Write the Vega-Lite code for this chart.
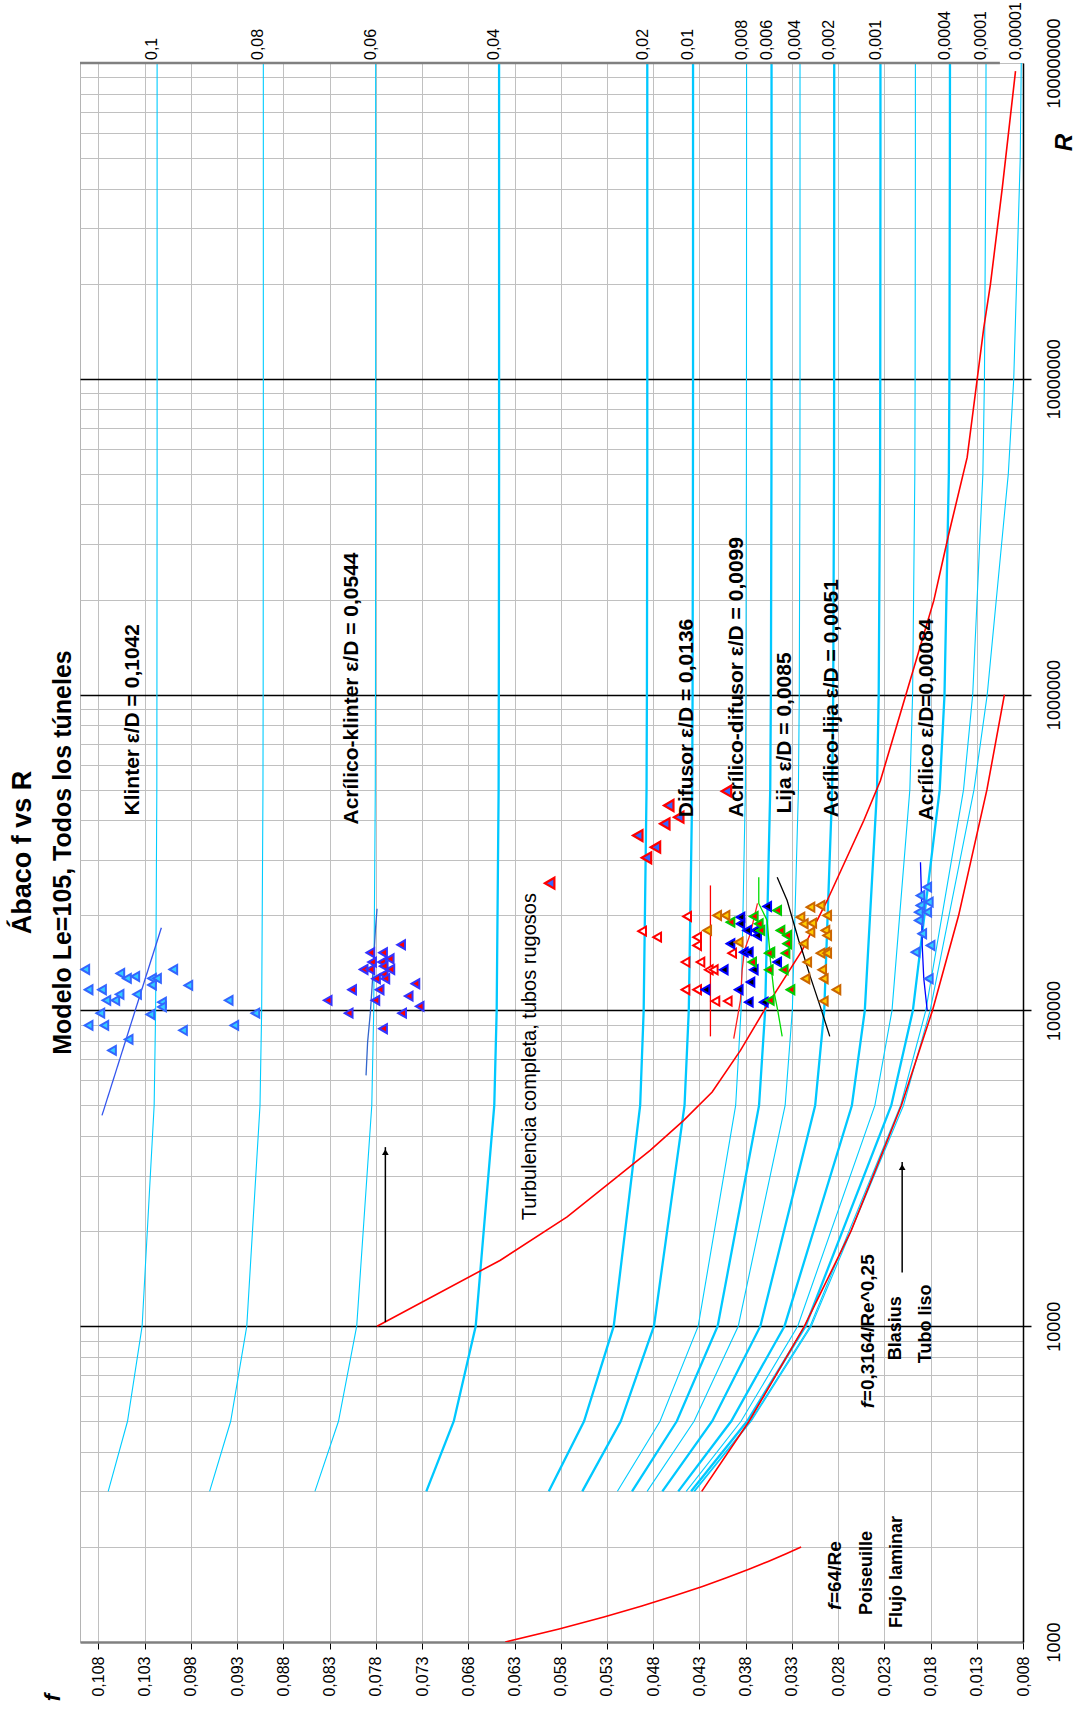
{
  "$schema": "https://vega.github.io/schema/vega-lite/v6.json",
  "width": 943,
  "height": 1579,
  "autosize": {"type": "none"},
  "padding": {"left": 80, "top": 63, "right": 53, "bottom": 69},
  "background": "#ffffff",
  "config": {
    "font": "Arial",
    "view": {"stroke": "#b4b4b4", "strokeWidth": 1},
    "axis": {"labelFont": "Arial", "titleFont": "Arial"}
  },
  "title": {
    "text": "Ábaco f vs R",
    "subtitle": "Modelo Le=105, Todos los túneles",
    "orient": "left",
    "anchor": "middle",
    "font": "Arial",
    "fontSize": 27,
    "fontWeight": "bold",
    "color": "#000000",
    "subtitleFont": "Arial",
    "subtitleFontSize": 25,
    "subtitleFontWeight": "bold",
    "subtitleColor": "#000000",
    "subtitlePadding": 14,
    "offset": -36
  },
  "datasets": {
    "curves": [
      {"c":"0.1","R":3000,"f":0.10695},{"c":"0.1","R":5000,"f":0.10486},{"c":"0.1","R":10000,"f":0.10328},{"c":"0.1","R":50000,"f":0.10198},{"c":"0.1","R":100000,"f":0.10182},{"c":"0.1","R":500000,"f":0.10169},{"c":"0.1","R":1000000,"f":0.10168},{"c":"0.1","R":5000000,"f":0.10166},{"c":"0.1","R":10000000,"f":0.10166},{"c":"0.1","R":50000000,"f":0.10166},{"c":"0.1","R":100000000,"f":0.10166},
      {"c":"0.08","R":3000,"f":0.09598},{"c":"0.08","R":5000,"f":0.0937},{"c":"0.08","R":10000,"f":0.09196},{"c":"0.08","R":50000,"f":0.09053},{"c":"0.08","R":100000,"f":0.09035},{"c":"0.08","R":500000,"f":0.09021},{"c":"0.08","R":1000000,"f":0.09019},{"c":"0.08","R":5000000,"f":0.09017},{"c":"0.08","R":10000000,"f":0.09017},{"c":"0.08","R":50000000,"f":0.09017},{"c":"0.08","R":100000000,"f":0.09017},
      {"c":"0.06","R":3000,"f":0.08459},{"c":"0.06","R":5000,"f":0.08204},{"c":"0.06","R":10000,"f":0.08007},{"c":"0.06","R":50000,"f":0.07844},{"c":"0.06","R":100000,"f":0.07823},{"c":"0.06","R":500000,"f":0.07806},{"c":"0.06","R":1000000,"f":0.07804},{"c":"0.06","R":5000000,"f":0.07802},{"c":"0.06","R":10000000,"f":0.07802},{"c":"0.06","R":50000000,"f":0.07802},{"c":"0.06","R":100000000,"f":0.07802},
      {"c":"0.04","R":3000,"f":0.07254},{"c":"0.04","R":5000,"f":0.06957},{"c":"0.04","R":10000,"f":0.0672},{"c":"0.04","R":50000,"f":0.06519},{"c":"0.04","R":100000,"f":0.06493},{"c":"0.04","R":500000,"f":0.06472},{"c":"0.04","R":1000000,"f":0.0647},{"c":"0.04","R":5000000,"f":0.06467},{"c":"0.04","R":10000000,"f":0.06467},{"c":"0.04","R":50000000,"f":0.06467},{"c":"0.04","R":100000000,"f":0.06467},
      {"c":"0.02","R":3000,"f":0.05929},{"c":"0.02","R":5000,"f":0.05548},{"c":"0.02","R":10000,"f":0.05227},{"c":"0.02","R":50000,"f":0.04941},{"c":"0.02","R":100000,"f":0.04903},{"c":"0.02","R":500000,"f":0.04872},{"c":"0.02","R":1000000,"f":0.04868},{"c":"0.02","R":5000000,"f":0.04864},{"c":"0.02","R":10000000,"f":0.04864},{"c":"0.02","R":50000000,"f":0.04864},{"c":"0.02","R":100000000,"f":0.04864},
      {"c":"0.015","R":3000,"f":0.05567},{"c":"0.015","R":5000,"f":0.05151},{"c":"0.015","R":10000,"f":0.04792},{"c":"0.015","R":50000,"f":0.04461},{"c":"0.015","R":100000,"f":0.04415},{"c":"0.015","R":500000,"f":0.04378},{"c":"0.015","R":1000000,"f":0.04374},{"c":"0.015","R":5000000,"f":0.0437},{"c":"0.015","R":10000000,"f":0.04369},{"c":"0.015","R":50000000,"f":0.04369},{"c":"0.015","R":100000000,"f":0.04369},
      {"c":"0.01","R":3000,"f":0.05187},{"c":"0.01","R":5000,"f":0.04726},{"c":"0.01","R":10000,"f":0.04313},{"c":"0.01","R":50000,"f":0.03908},{"c":"0.01","R":100000,"f":0.0385},{"c":"0.01","R":500000,"f":0.03803},{"c":"0.01","R":1000000,"f":0.03797},{"c":"0.01","R":5000000,"f":0.03792},{"c":"0.01","R":10000000,"f":0.03791},{"c":"0.01","R":50000000,"f":0.0379},{"c":"0.01","R":100000000,"f":0.0379},
      {"c":"0.008","R":3000,"f":0.05029},{"c":"0.008","R":5000,"f":0.04545},{"c":"0.008","R":10000,"f":0.04103},{"c":"0.008","R":50000,"f":0.03655},{"c":"0.008","R":100000,"f":0.03589},{"c":"0.008","R":500000,"f":0.03534},{"c":"0.008","R":1000000,"f":0.03527},{"c":"0.008","R":5000000,"f":0.03521},{"c":"0.008","R":10000000,"f":0.0352},{"c":"0.008","R":50000000,"f":0.0352},{"c":"0.008","R":100000000,"f":0.0352},
      {"c":"0.006","R":3000,"f":0.04866},{"c":"0.006","R":5000,"f":0.04358},{"c":"0.006","R":10000,"f":0.0388},{"c":"0.006","R":50000,"f":0.03373},{"c":"0.006","R":100000,"f":0.03295},{"c":"0.006","R":500000,"f":0.03229},{"c":"0.006","R":1000000,"f":0.0322},{"c":"0.006","R":5000000,"f":0.03213},{"c":"0.006","R":10000000,"f":0.03212},{"c":"0.006","R":50000000,"f":0.03212},{"c":"0.006","R":100000000,"f":0.03212},
      {"c":"0.004","R":3000,"f":0.04701},{"c":"0.004","R":5000,"f":0.04162},{"c":"0.004","R":10000,"f":0.03641},{"c":"0.004","R":50000,"f":0.03048},{"c":"0.004","R":100000,"f":0.0295},{"c":"0.004","R":500000,"f":0.02864},{"c":"0.004","R":1000000,"f":0.02853},{"c":"0.004","R":5000000,"f":0.02844},{"c":"0.004","R":10000000,"f":0.02843},{"c":"0.004","R":50000000,"f":0.02842},{"c":"0.004","R":100000000,"f":0.02842},
      {"c":"0.002","R":3000,"f":0.04529},{"c":"0.002","R":5000,"f":0.03957},{"c":"0.002","R":10000,"f":0.0338},{"c":"0.002","R":50000,"f":0.02651},{"c":"0.002","R":100000,"f":0.02511},{"c":"0.002","R":500000,"f":0.02379},{"c":"0.002","R":1000000,"f":0.02361},{"c":"0.002","R":5000000,"f":0.02346},{"c":"0.002","R":10000000,"f":0.02344},{"c":"0.002","R":50000000,"f":0.02342},{"c":"0.002","R":100000000,"f":0.02342},
      {"c":"0.001","R":3000,"f":0.04443},{"c":"0.001","R":5000,"f":0.0385},{"c":"0.001","R":10000,"f":0.03237},{"c":"0.001","R":50000,"f":0.02402},{"c":"0.001","R":100000,"f":0.02217},{"c":"0.001","R":500000,"f":0.02024},{"c":"0.001","R":1000000,"f":0.01994},{"c":"0.001","R":5000000,"f":0.0197},{"c":"0.001","R":10000000,"f":0.01967},{"c":"0.001","R":50000000,"f":0.01964},{"c":"0.001","R":100000000,"f":0.01964},
      {"c":"0.0004","R":3000,"f":0.0439},{"c":"0.0004","R":5000,"f":0.03784},{"c":"0.0004","R":10000,"f":0.03152},{"c":"0.0004","R":50000,"f":0.02225},{"c":"0.0004","R":100000,"f":0.01991},{"c":"0.0004","R":500000,"f":0.01701},{"c":"0.0004","R":1000000,"f":0.01649},{"c":"0.0004","R":5000000,"f":0.01602},{"c":"0.0004","R":10000000,"f":0.01596},{"c":"0.0004","R":50000000,"f":0.01591},{"c":"0.0004","R":100000000,"f":0.0159},
      {"c":"0.0001","R":3000,"f":0.04361},{"c":"0.0001","R":5000,"f":0.0375},{"c":"0.0001","R":10000,"f":0.03103},{"c":"0.0001","R":50000,"f":0.02124},{"c":"0.0001","R":100000,"f":0.01851},{"c":"0.0001","R":500000,"f":0.01443},{"c":"0.0001","R":1000000,"f":0.01344},{"c":"0.0001","R":5000000,"f":0.01234},{"c":"0.0001","R":10000000,"f":0.01217},{"c":"0.0001","R":50000000,"f":0.01202},{"c":"0.0001","R":100000000,"f":0.012},
      {"c":"0.00001","R":3000,"f":0.04352},{"c":"0.00001","R":5000,"f":0.0374},{"c":"0.00001","R":10000,"f":0.0309},{"c":"0.00001","R":50000,"f":0.02093},{"c":"0.00001","R":100000,"f":0.01804},{"c":"0.00001","R":500000,"f":0.0133},{"c":"0.00001","R":1000000,"f":0.01187},{"c":"0.00001","R":5000000,"f":0.00959},{"c":"0.00001","R":10000000,"f":0.009},{"c":"0.00001","R":50000000,"f":0.0083},{"c":"0.00001","R":100000000,"f":0.00819}
    ],
    "redlines": [
      {"l":"turb","R":10000,"f":0.07787},{"l":"turb","R":16180,"f":0.06453},{"l":"turb","R":22180,"f":0.05731},{"l":"turb","R":29690,"f":0.0519},{"l":"turb","R":36060,"f":0.04833},{"l":"turb","R":44860,"f":0.0447},{"l":"turb","R":55140,"f":0.04162},{"l":"turb","R":74700,"f":0.03856},{"l":"turb","R":103700,"f":0.03567},{"l":"turb","R":154800,"f":0.03189},{"l":"turb","R":222900,"f":0.02918},{"l":"turb","R":399300,"f":0.02522},{"l":"turb","R":534300,"f":0.02342},{"l":"turb","R":1030000,"f":0.02053},{"l":"turb","R":1984000,"f":0.01765},{"l":"turb","R":3225000,"f":0.01603},{"l":"turb","R":5635000,"f":0.01404},{"l":"turb","R":9950000,"f":0.01296},{"l":"turb","R":14530000,"f":0.01224},{"l":"turb","R":19940000,"f":0.01152},{"l":"turb","R":40000000,"f":0.01025},{"l":"turb","R":94300000,"f":0.00881},
      {"l":"blasius","R":3000,"f":0.04275},{"l":"blasius","R":5000,"f":0.03763},{"l":"blasius","R":10000,"f":0.03164},{"l":"blasius","R":20000,"f":0.02661},{"l":"blasius","R":50000,"f":0.02116},{"l":"blasius","R":100000,"f":0.01779},{"l":"blasius","R":200000,"f":0.01496},{"l":"blasius","R":500000,"f":0.0119},{"l":"blasius","R":1000000,"f":0.01001},
      {"l":"laminar","R":1000,"f":0.064},{"l":"laminar","R":1100,"f":0.05818},{"l":"laminar","R":1200,"f":0.05333},{"l":"laminar","R":1300,"f":0.04923},{"l":"laminar","R":1400,"f":0.04571},{"l":"laminar","R":1500,"f":0.04267},{"l":"laminar","R":1600,"f":0.04},{"l":"laminar","R":1700,"f":0.03765},{"l":"laminar","R":1800,"f":0.03556},{"l":"laminar","R":1900,"f":0.03368},{"l":"laminar","R":2000,"f":0.032}
    ],
    "fits": [
      {"s":"Klinter","R":46530,"f":0.10762},{"s":"Klinter","R":182700,"f":0.1012},
      {"s":"Acrílico-klinter","R":62280,"f":0.07906},{"s":"Acrílico-klinter","R":79380,"f":0.07889},{"s":"Acrílico-klinter","R":97840,"f":0.0786},{"s":"Acrílico-klinter","R":118500,"f":0.07841},{"s":"Acrílico-klinter","R":179200,"f":0.07805},{"s":"Acrílico-klinter","R":209800,"f":0.07787},
      {"s":"Difusor","R":82750,"f":0.04181},{"s":"Difusor","R":248700,"f":0.04181},
      {"s":"Acrílico-difusor","R":81360,"f":0.03929},{"s":"Acrílico-difusor","R":107600,"f":0.03856},{"s":"Acrílico-difusor","R":133800,"f":0.03838},{"s":"Acrílico-difusor","R":154800,"f":0.03813},{"s":"Acrílico-difusor","R":175300,"f":0.03748},{"s":"Acrílico-difusor","R":218100,"f":0.03672},
      {"s":"Lija","R":82750,"f":0.03405},{"s":"Lija","R":100000,"f":0.03453},{"s":"Lija","R":115700,"f":0.03496},{"s":"Lija","R":143900,"f":0.03532},{"s":"Lija","R":154800,"f":0.0354},{"s":"Lija","R":192700,"f":0.03568},{"s":"Lija","R":218100,"f":0.03658},{"s":"Lija","R":264200,"f":0.03658},
      {"s":"Acrílico-lija","R":82750,"f":0.0289},{"s":"Acrílico-lija","R":102400,"f":0.02991},{"s":"Acrílico-lija","R":127500,"f":0.03099},{"s":"Acrílico-lija","R":154800,"f":0.03189},{"s":"Acrílico-lija","R":166500,"f":0.03226},{"s":"Acrílico-lija","R":222900,"f":0.03351},{"s":"Acrílico-lija","R":264200,"f":0.03459},
      {"s":"Acrílico","R":100000,"f":0.01836},{"s":"Acrílico","R":126000,"f":0.01873},{"s":"Acrílico","R":160000,"f":0.0189},{"s":"Acrílico","R":230000,"f":0.01898},{"s":"Acrílico","R":294600,"f":0.01909}
    ],
    "pts": [
      {"s":"Klinter","f":0.10943,"R":134800},{"s":"Klinter","f":0.10907,"R":116300},{"s":"Klinter","f":0.10762,"R":116300},{"s":"Klinter","f":0.10715,"R":107600},{"s":"Klinter","f":0.10618,"R":107600},{"s":"Klinter","f":0.10572,"R":112400},{"s":"Klinter","f":0.10564,"R":130900},{"s":"Klinter","f":0.10492,"R":126300},{"s":"Klinter","f":0.10402,"R":128100},{"s":"Klinter","f":0.10383,"R":112400},{"s":"Klinter","f":0.10221,"R":126300},{"s":"Klinter","f":0.10167,"R":126300},{"s":"Klinter","f":0.10221,"R":120400},{"s":"Klinter","f":0.10113,"R":106200},{"s":"Klinter","f":0.10113,"R":102600},{"s":"Klinter","f":0.10239,"R":97100},{"s":"Klinter","f":0.1078,"R":98000},{"s":"Klinter","f":0.10907,"R":89640},{"s":"Klinter","f":0.10737,"R":89640},{"s":"Klinter","f":0.10654,"R":74700},{"s":"Klinter","f":0.10474,"R":80950},{"s":"Klinter","f":0.09991,"R":134800},{"s":"Klinter","f":0.09828,"R":120000},{"s":"Klinter","f":0.09392,"R":107600},{"s":"Klinter","f":0.09103,"R":98000},{"s":"Klinter","f":0.09331,"R":89640},{"s":"Klinter","f":0.09886,"R":86460},
      {"s":"Acrílico-klinter","f":0.07527,"R":161400},{"s":"Acrílico-klinter","f":0.07859,"R":152300},{"s":"Acrílico-klinter","f":0.07722,"R":152300},{"s":"Acrílico-klinter","f":0.07841,"R":142200},{"s":"Acrílico-klinter","f":0.07733,"R":142200},{"s":"Acrílico-klinter","f":0.0765,"R":145700},{"s":"Acrílico-klinter","f":0.07932,"R":134800},{"s":"Acrílico-klinter","f":0.07859,"R":134800},{"s":"Acrílico-klinter","f":0.07715,"R":138100},{"s":"Acrílico-klinter","f":0.07643,"R":134800},{"s":"Acrílico-klinter","f":0.07715,"R":130000},{"s":"Acrílico-klinter","f":0.07798,"R":126000},{"s":"Acrílico-klinter","f":0.07697,"R":126000},{"s":"Acrílico-klinter","f":0.07372,"R":121500},{"s":"Acrílico-klinter","f":0.08057,"R":116300},{"s":"Acrílico-klinter","f":0.07759,"R":116300},{"s":"Acrílico-klinter","f":0.07445,"R":111000},{"s":"Acrílico-klinter","f":0.08321,"R":107600},{"s":"Acrílico-klinter","f":0.07805,"R":107600},{"s":"Acrílico-klinter","f":0.07326,"R":103000},{"s":"Acrílico-klinter","f":0.08094,"R":98000},{"s":"Acrílico-klinter","f":0.07516,"R":98000},{"s":"Acrílico-klinter","f":0.07722,"R":87500},
      {"s":"Difusor","f":0.04433,"R":198400},{"s":"Difusor","f":0.0492,"R":178200},{"s":"Difusor","f":0.04757,"R":170600},{"s":"Difusor","f":0.04325,"R":170600},{"s":"Difusor","f":0.04325,"R":160600},{"s":"Difusor","f":0.04451,"R":142200},{"s":"Difusor","f":0.04289,"R":142200},{"s":"Difusor","f":0.03946,"R":151800},{"s":"Difusor","f":0.04451,"R":116300},{"s":"Difusor","f":0.04325,"R":116300},{"s":"Difusor","f":0.04127,"R":107000},{"s":"Difusor","f":0.03994,"R":107000},{"s":"Difusor","f":0.04199,"R":134500},{"s":"Difusor","f":0.04145,"R":134500},
      {"s":"Acrílico-difusor","f":0.03856,"R":197400},{"s":"Acrílico-difusor","f":0.03567,"R":213400},{"s":"Acrílico-difusor","f":0.03856,"R":188100},{"s":"Acrílico-difusor","f":0.03784,"R":179200},{"s":"Acrílico-difusor","f":0.03694,"R":179200},{"s":"Acrílico-difusor","f":0.03676,"R":172700},{"s":"Acrílico-difusor","f":0.03964,"R":162600},{"s":"Acrílico-difusor","f":0.0382,"R":152900},{"s":"Acrílico-difusor","f":0.03766,"R":152900},{"s":"Acrílico-difusor","f":0.03459,"R":142200},{"s":"Acrílico-difusor","f":0.04037,"R":134500},{"s":"Acrílico-difusor","f":0.03712,"R":134500},{"s":"Acrílico-difusor","f":0.03748,"R":122900},{"s":"Acrílico-difusor","f":0.04235,"R":116300},{"s":"Acrílico-difusor","f":0.03875,"R":116300},{"s":"Acrílico-difusor","f":0.03766,"R":106200},{"s":"Acrílico-difusor","f":0.03604,"R":106200},
      {"s":"Lija","f":0.03459,"R":207300},{"s":"Lija","f":0.03712,"R":198400},{"s":"Lija","f":0.03658,"R":188100},{"s":"Lija","f":0.03423,"R":179200},{"s":"Lija","f":0.03351,"R":172700},{"s":"Lija","f":0.0364,"R":179200},{"s":"Lija","f":0.03351,"R":162600},{"s":"Lija","f":0.03532,"R":152900},{"s":"Lija","f":0.03964,"R":190300},{"s":"Lija","f":0.0355,"R":151800},{"s":"Lija","f":0.03369,"R":151800},{"s":"Lija","f":0.0373,"R":142200},{"s":"Lija","f":0.0355,"R":134500},{"s":"Lija","f":0.03388,"R":134500},{"s":"Lija","f":0.03315,"R":116300},{"s":"Lija","f":0.03539,"R":107600},
      {"s":"Acrílico-lija","f":0.03099,"R":212300},{"s":"Acrílico-lija","f":0.0299,"R":214900},{"s":"Acrílico-lija","f":0.02918,"R":199800},{"s":"Acrílico-lija","f":0.03207,"R":197400},{"s":"Acrílico-lija","f":0.03171,"R":188100},{"s":"Acrílico-lija","f":0.0308,"R":188900},{"s":"Acrílico-lija","f":0.02937,"R":179200},{"s":"Acrílico-lija","f":0.03099,"R":177000},{"s":"Acrílico-lija","f":0.02918,"R":172700},{"s":"Acrílico-lija","f":0.03171,"R":162600},{"s":"Acrílico-lija","f":0.02937,"R":152900},{"s":"Acrílico-lija","f":0.04108,"R":199800},{"s":"Acrílico-lija","f":0.04018,"R":199800},{"s":"Acrílico-lija","f":0.04216,"R":179200},{"s":"Acrílico-lija","f":0.03875,"R":164500},{"s":"Acrílico-lija","f":0.0299,"R":151800},{"s":"Acrílico-lija","f":0.02918,"R":151800},{"s":"Acrílico-lija","f":0.03134,"R":142200},{"s":"Acrílico-lija","f":0.02972,"R":134500},{"s":"Acrílico-lija","f":0.03153,"R":126000},{"s":"Acrílico-lija","f":0.02955,"R":126000},{"s":"Acrílico-lija","f":0.02818,"R":116300},{"s":"Acrílico-lija","f":0.02955,"R":107000},
      {"s":"Acrílico","f":0.01836,"R":245600},{"s":"Acrílico","f":0.01909,"R":231100},{"s":"Acrílico","f":0.01819,"R":220200},{"s":"Acrílico","f":0.01909,"R":214900},{"s":"Acrílico","f":0.01927,"R":204700},{"s":"Acrílico","f":0.01836,"R":204700},{"s":"Acrílico","f":0.01927,"R":192700},{"s":"Acrílico","f":0.0189,"R":174900},{"s":"Acrílico","f":0.018,"R":160600},{"s":"Acrílico","f":0.01963,"R":152900},{"s":"Acrílico","f":0.01819,"R":126000}
    ],
    "turbpts": [
      {"f":0.0592,"R":252800},{"f":0.04967,"R":357900},{"f":0.04873,"R":304200},{"f":0.04776,"R":328700},{"f":0.04675,"R":389800},{"f":0.04632,"R":445500},{"f":0.04524,"R":409000},{"f":0.04008,"R":494300}
    ],
    "arrows": [
      {"f":0.07697,"R":10300,"R2":36900},
      {"f":0.02107,"R":14800,"R2":33100}
    ],
    "arrowheads": [
      {"f":0.07697,"R":35600},
      {"f":0.02107,"R":31900}
    ],
    "notes": [
      {"t":"Klinter  ε/D = 0,1042","f":0.10429,"R":414100},
      {"t":"Acrílico-klinter ε/D = 0,0544","f":0.0806,"R":387800},
      {"t":"Difusor  ε/D = 0,0136","f":0.04433,"R":409000},
      {"t":"Acrílico-difusor ε/D = 0,0099","f":0.03892,"R":409000},
      {"t":"Lija  ε/D = 0,0085","f":0.03369,"R":420200},
      {"t":"Acrílico-lija  ε/D = 0,0051","f":0.02864,"R":409000},
      {"t":"Acrílico  ε/D=0,00084","f":0.01836,"R":399300}
    ],
    "regime": [
      {"t":"Turbulencia completa, tubos rugosos","f":0.06128,"R":21650}
    ],
    "smallnotes": [
      {"t":"Blasius","f":0.02179,"R":7805},
      {"t":"Tubo liso","f":0.01844,"R":7636},
      {"t":"Poiseuille","f":0.02485,"R":1217},
      {"t":"Flujo laminar","f":0.02161,"R":1107}
    ],
    "formulas": [
      {"t":"=0,3164/Re^0,25","f":0.02476,"R":5502},
      {"t":"=64/Re","f":0.02829,"R":1263}
    ],
    "rough": [
      {"t":"0,1","f":0.1017,"R":100000000},{"t":"0,08","f":0.0902,"R":100000000},{"t":"0,06","f":0.078,"R":100000000},{"t":"0,04","f":0.0647,"R":100000000},{"t":"0,02","f":0.0486,"R":100000000},{"t":"0,01","f":0.0437,"R":100000000},{"t":"0,008","f":0.0379,"R":100000000},{"t":"0,006","f":0.0352,"R":100000000},{"t":"0,004","f":0.0321,"R":100000000},{"t":"0,002","f":0.0284,"R":100000000},{"t":"0,001","f":0.0234,"R":100000000},{"t":"0,0004","f":0.0159,"R":100000000},{"t":"0,0001","f":0.012,"R":100000000},{"t":"0,00001","f":0.0082,"R":100000000}
    ],
    "frame": [
      {"f":0.11,"f2":0.0105,"R":100000000}
    ]
  },
  "encoding": {
    "x": {
      "field": "f",
      "type": "quantitative",
      "scale": {"domain": [0.008, 0.11], "reverse": true, "nice": false, "zero": false},
      "axis": {
        "orient": "bottom",
        "values": [0.008,0.013,0.018,0.023,0.028,0.033,0.038,0.043,0.048,0.053,0.058,0.063,0.068,0.073,0.078,0.083,0.088,0.093,0.098,0.103,0.108],
        "labelExpr": "replace(format(datum.value, '.3f'), '.', ',')",
        "labelAngle": 270,
        "labelAlign": "right",
        "labelBaseline": "middle",
        "labelFontSize": 16,
        "labelColor": "#000000",
        "labelPadding": 7,
        "labelOverlap": false,
        "labelFlush": false,
        "labelBound": false,
        "domainColor": "#808080",
        "domainWidth": 2.5,
        "ticks": true,
        "tickColor": "#000000",
        "tickSize": 7,
        "tickWidth": 1,
        "grid": true,
        "gridColor": "#c0c0c0",
        "gridWidth": 1,
        "title": "f",
        "titleFontStyle": "italic",
        "titleFontWeight": "bold",
        "titleFontSize": 22,
        "titleColor": "#000000",
        "titleAngle": 270,
        "titleAlign": "center",
        "titleBaseline": "middle",
        "titleX": -28,
        "titleY": 55
      }
    },
    "y": {
      "field": "R",
      "type": "quantitative",
      "scale": {"type": "log", "domain": [1000, 100000000], "nice": false},
      "axis": {
        "orient": "right",
        "values": [1000,2000,3000,4000,5000,6000,7000,8000,9000,10000,20000,30000,40000,50000,60000,70000,80000,90000,100000,200000,300000,400000,500000,600000,700000,800000,900000,1000000,2000000,3000000,4000000,5000000,6000000,7000000,8000000,9000000,10000000,20000000,30000000,40000000,50000000,60000000,70000000,80000000,90000000,100000000],
        "labelExpr": "indexof([1000,10000,100000,1000000,10000000,100000000], datum.value) >= 0 ? format(datum.value, 'd') : ''",
        "labelAngle": 270,
        "labelAlign": "center",
        "labelBaseline": "top",
        "labelFontSize": 18,
        "labelColor": "#000000",
        "labelPadding": 14,
        "labelOverlap": false,
        "labelFlush": false,
        "labelBound": false,
        "domainColor": "#000000",
        "domainWidth": 1.5,
        "ticks": true,
        "tickSize": 8,
        "tickWidth": 1.5,
        "tickColor": {"condition": {"test": "indexof([10000,100000,1000000,10000000], datum.value) >= 0", "value": "#000000"}, "value": "rgba(0,0,0,0)"},
        "grid": true,
        "gridColor": {"condition": {"test": "indexof([10000,100000,1000000,10000000], datum.value) >= 0", "value": "#000000"}, "value": "#c0c0c0"},
        "gridWidth": {"condition": {"test": "indexof([10000,100000,1000000,10000000], datum.value) >= 0", "value": 1.5}, "value": 1},
        "title": "R",
        "titleFontStyle": "italic",
        "titleFontWeight": "bold",
        "titleFontSize": 24,
        "titleColor": "#000000",
        "titleAngle": 270,
        "titleAlign": "center",
        "titleBaseline": "middle",
        "titleX": 41,
        "titleY": 79
      }
    }
  },
  "layer": [
    {
      "data": {"name": "curves"},
      "transform": [{"filter": {"field": "c", "oneOf": ["0.1","0.08","0.06","0.01","0.006","0.001","0.0001","0.00001"]}}],
      "mark": {"type": "line", "color": "#00ccff", "strokeWidth": 1.1, "clip": true},
      "encoding": {"detail": {"field": "c"}, "order": {"field": "R", "type": "quantitative"}}
    },
    {
      "data": {"name": "curves"},
      "transform": [{"filter": {"field": "c", "oneOf": ["0.04","0.02","0.015","0.008","0.004","0.002","0.0004"]}}],
      "mark": {"type": "line", "color": "#00c8ff", "strokeWidth": 2.3, "clip": true},
      "encoding": {"detail": {"field": "c"}, "order": {"field": "R", "type": "quantitative"}}
    },
    {
      "data": {"name": "redlines"},
      "mark": {"type": "line", "color": "#ff0000", "strokeWidth": 1.6, "clip": true},
      "encoding": {"detail": {"field": "l"}, "order": {"field": "R", "type": "quantitative"}}
    },
    {
      "data": {"name": "frame"},
      "mark": {"type": "rule", "color": "#808080", "strokeWidth": 2.5},
      "encoding": {"x2": {"field": "f2"}}
    },
    {
      "data": {"name": "fits"},
      "mark": {"type": "line", "strokeWidth": 1.3},
      "encoding": {
        "detail": {"field": "s"},
        "order": {"field": "R", "type": "quantitative"},
        "color": {
          "field": "s",
          "type": "nominal",
          "legend": null,
          "scale": {
            "domain": ["Klinter","Acrílico-klinter","Difusor","Acrílico-difusor","Lija","Acrílico-lija","Acrílico"],
            "range": ["#3355ee","#3366cc","#ff0000","#ff2020","#00dd00","#000000","#0000ff"]
          }
        }
      }
    },
    {
      "data": {"name": "pts"},
      "mark": {"type": "point", "shape": "triangle-left", "filled": true, "size": 80, "strokeWidth": 2, "opacity": 1},
      "encoding": {
        "fill": {
          "field": "s", "type": "nominal", "legend": null,
          "scale": {
            "domain": ["Klinter","Acrílico-klinter","Difusor","Acrílico-difusor","Lija","Acrílico-lija","Acrílico"],
            "range": ["#33ccff","#ff0000","#ffffff","#000000","#ff0000","#ffcc00","#33ccff"]
          }
        },
        "stroke": {
          "field": "s", "type": "nominal", "legend": null,
          "scale": {
            "domain": ["Klinter","Acrílico-klinter","Difusor","Acrílico-difusor","Lija","Acrílico-lija","Acrílico"],
            "range": ["#3366ff","#3333ff","#ff0000","#0000ff","#00cc00","#cc6600","#3366ff"]
          }
        }
      }
    },
    {
      "data": {"name": "turbpts"},
      "mark": {"type": "point", "shape": "triangle-left", "filled": true, "size": 120, "fill": "#3366ff", "stroke": "#ff0000", "strokeWidth": 2.2, "opacity": 1}
    },
    {
      "data": {"name": "arrows"},
      "mark": {"type": "rule", "color": "#000000", "strokeWidth": 1.5},
      "encoding": {"y2": {"field": "R2"}}
    },
    {
      "data": {"name": "arrowheads"},
      "mark": {"type": "point", "shape": "triangle-up", "filled": true, "size": 45, "color": "#000000", "opacity": 1}
    },
    {
      "data": {"name": "notes"},
      "mark": {"type": "text", "angle": 270, "align": "left", "baseline": "middle", "font": "Arial", "fontWeight": "bold", "fontSize": 21, "color": "#000000"},
      "encoding": {"text": {"field": "t"}}
    },
    {
      "data": {"name": "regime"},
      "mark": {"type": "text", "angle": 270, "align": "left", "baseline": "middle", "font": "Arial", "fontWeight": "normal", "fontSize": 20, "color": "#000000"},
      "encoding": {"text": {"field": "t"}}
    },
    {
      "data": {"name": "smallnotes"},
      "mark": {"type": "text", "angle": 270, "align": "left", "baseline": "middle", "font": "Arial", "fontWeight": "bold", "fontSize": 18, "color": "#000000"},
      "encoding": {"text": {"field": "t"}}
    },
    {
      "data": {"name": "formulas"},
      "mark": {"type": "text", "angle": 270, "align": "left", "baseline": "middle", "font": "Arial", "fontWeight": "bold", "fontSize": 19, "color": "#000000", "dx": 7},
      "encoding": {"text": {"field": "t"}}
    },
    {
      "data": {"name": "formulas"},
      "mark": {"type": "text", "angle": 270, "align": "left", "baseline": "middle", "font": "Arial", "fontWeight": "bold", "fontStyle": "italic", "fontSize": 19, "color": "#000000", "text": "f"}
    },
    {
      "data": {"name": "rough"},
      "mark": {"type": "text", "angle": 270, "align": "left", "baseline": "alphabetic", "font": "Arial", "fontSize": 16, "color": "#000000", "dx": 3},
      "encoding": {"text": {"field": "t"}}
    }
  ]
}
